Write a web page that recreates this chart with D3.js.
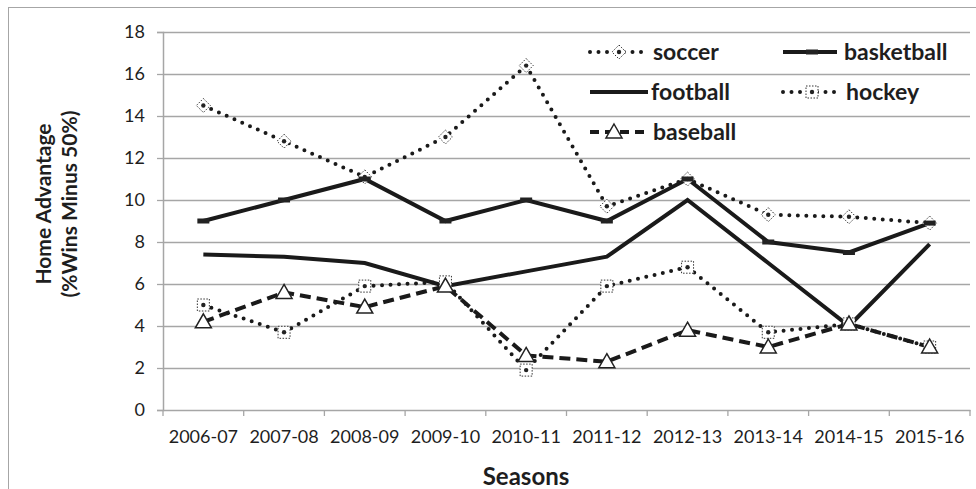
<!DOCTYPE html>
<html>
<head>
<meta charset="utf-8">
<script src="https://cdn.jsdelivr.net/npm/d3@7"></script>
<style>
  body { margin: 0; background: #fff; }
  text { font-family: Lato, "Open Sans", sans-serif; fill: #1e1e1e; }
  .tick text { font-size: 18px; }
  .axisTitle { font-size: 21px; font-weight: bold; }
  .legendText { font-size: 23px; font-weight: bold; }
</style>
</head>
<body>
<div class="chart"></div>
<script>
var seasons = ["2006-07", "2007-08", "2008-09", "2009-10", "2010-11", "2011-12", "2012-13", "2013-14", "2014-15", "2015-16"];
var yTicks = [0, 2, 4, 6, 8, 10, 12, 14, 16, 18];

var soccer     = [14.5, 12.8, 11.1, 13.0, 16.4, 9.7, 11.0, 9.3, 9.2, 8.9];
var basketball = [9.0, 10.0, 11.0, 9.0, 10.0, 9.0, 11.0, 8.0, 7.5, 8.9];
var football   = [7.4, 7.3, 7.0, 5.9, 6.6, 7.3, 10.0, 7.0, 4.0, 7.9];
var hockey     = [5.0, 3.7, 5.9, 6.1, 1.9, 5.9, 6.8, 3.7, 4.1, 3.0];
var baseball   = [4.2, 5.6, 4.9, 5.9, 2.6, 2.3, 3.8, 3.0, 4.1, 3.0];

var svgWidth = 976;
var svgHeight = 489;

var margin = { top: 32, right: 6, bottom: 79, left: 163 };
var width = svgWidth - margin.left - margin.right;
var height = svgHeight - margin.top - margin.bottom;

var svg = d3.select(".chart")
  .append("svg")
  .attr("width", svgWidth)
  .attr("height", svgHeight);

// outer frame (right and bottom edges fall outside the picture)
svg.append("rect")
  .attr("x", 8.5).attr("y", 7.5)
  .attr("width", 980).attr("height", 500)
  .attr("fill", "none")
  .attr("stroke", "#a6a6a6");

var chartGroup = svg.append("g")
  .attr("transform", `translate(${margin.left}, ${margin.top})`);

var xScale = d3.scaleBand().domain(seasons).range([0, width]);
var yScale = d3.scaleLinear().domain([0, 18]).range([height, 0]);

// gridlines
chartGroup.selectAll(".grid")
  .data(yTicks.filter(d => d > 0))
  .enter()
  .append("line")
  .attr("x1", 0).attr("x2", width)
  .attr("y1", d => yScale(d) + 0.5).attr("y2", d => yScale(d) + 0.5)
  .attr("stroke", "#a6a6a6")
  .attr("stroke-width", 1.3);

var leftAxis = d3.axisLeft(yScale).tickValues(yTicks).tickSize(6).tickPadding(12);
var yAxis = chartGroup.append("g").call(leftAxis);
yAxis.select(".domain").attr("stroke", "#a6a6a6").attr("stroke-width", 1.5);
yAxis.selectAll(".tick line").attr("stroke", "#a6a6a6").attr("stroke-width", 1.3);
yAxis.selectAll(".tick text").attr("font-family", null).attr("font-size", null);

var bottomAxis = d3.axisBottom(xScale).tickSize(0).tickPadding(20);
var xAxis = chartGroup.append("g")
  .attr("transform", `translate(0, ${height})`)
  .call(bottomAxis);
xAxis.select(".domain").attr("stroke", "#a6a6a6").attr("stroke-width", 1.5);
xAxis.selectAll(".tick text").attr("font-family", null).attr("font-size", null);
yAxis.attr("font-family", null).attr("font-size", null);
xAxis.attr("font-family", null).attr("font-size", null);

// category boundary ticks
chartGroup.selectAll(".xtick")
  .data(seasons.concat(["end"]))
  .enter()
  .append("line")
  .attr("x1", (d, i) => i * xScale.bandwidth())
  .attr("x2", (d, i) => i * xScale.bandwidth())
  .attr("y1", height).attr("y2", height + 6)
  .attr("stroke", "#a6a6a6")
  .attr("stroke-width", 1.3);

var cx = (d, i) => xScale(seasons[i]) + xScale.bandwidth() / 2;
var line = d3.line().x(cx).y(d => yScale(d));

var series = [
  { name: "soccer", values: soccer, dash: "0 8.5", cap: "round", marker: "diamond" },
  { name: "basketball", values: basketball, dash: null, cap: "butt", marker: "dash" },
  { name: "football", values: football, dash: null, cap: "butt", marker: "none" },
  { name: "hockey", values: hockey, dash: "0 8.5", cap: "round", marker: "square" },
  { name: "baseball", values: baseball, dash: "11 6", cap: "butt", marker: "triangle" }
];

function drawMarker(g, type, x, y) {
  if (type === "diamond") {
    g.append("path")
      .attr("d", `M${x},${y - 7}L${x + 7},${y}L${x},${y + 7}L${x - 7},${y}Z`)
      .attr("fill", "#fff").attr("stroke", "#333")
      .attr("stroke-width", 1).attr("stroke-dasharray", "1.5 1.5");
    g.append("circle").attr("cx", x).attr("cy", y).attr("r", 2.2).attr("fill", "#222");
  } else if (type === "square") {
    g.append("rect")
      .attr("x", x - 6).attr("y", y - 6).attr("width", 12).attr("height", 12)
      .attr("fill", "#fff").attr("stroke", "#333")
      .attr("stroke-width", 1).attr("stroke-dasharray", "1.5 1.5");
    g.append("circle").attr("cx", x).attr("cy", y).attr("r", 2.2).attr("fill", "#222");
  } else if (type === "triangle") {
    g.append("path")
      .attr("d", `M${x},${y - 8}L${x + 8},${y + 6}L${x - 8},${y + 6}Z`)
      .attr("fill", "#fff").attr("stroke", "#222").attr("stroke-width", 1.5);
  } else if (type === "dash") {
    g.append("rect")
      .attr("x", x - 6).attr("y", y - 2.5).attr("width", 12).attr("height", 5)
      .attr("fill", "#222");
  }
}

series.forEach(function (s) {
  chartGroup.append("path")
    .datum(s.values)
    .attr("d", line)
    .attr("fill", "none")
    .attr("stroke", "#1a1a1a")
    .attr("stroke-width", 4)
    .attr("stroke-linecap", s.cap)
    .attr("stroke-linejoin", "miter")
    .attr("stroke-dasharray", s.dash);
});

series.forEach(function (s) {
  var g = chartGroup.append("g");
  s.values.forEach(function (v, i) {
    drawMarker(g, s.marker, cx(v, i), yScale(v));
  });
});

// legend
var legendPos = {
  soccer: [590, 52], basketball: [783, 52],
  football: [590, 92], hockey: [783, 92],
  baseball: [590, 132]
};
series.forEach(function (s) {
  var p = legendPos[s.name];
  var lg = svg.append("g");
  lg.append("line")
    .attr("x1", p[0]).attr("x2", p[0] + (s.name === "football" ? 58 : 54))
    .attr("y1", p[1]).attr("y2", p[1])
    .attr("stroke", "#1a1a1a")
    .attr("stroke-width", 4)
    .attr("stroke-linecap", s.cap)
    .attr("stroke-dasharray", s.dash === "11 6" ? "9 6" : s.dash);
  drawMarker(lg, s.marker, p[0] + (s.marker === "triangle" ? 24 : 29), p[1]);
  lg.append("text")
    .attr("class", "legendText")
    .attr("x", p[0] + (s.name === "football" || s.name === "basketball" ? 61 : 63))
    .attr("y", p[1])
    .attr("dy", "0.36em")
    .text(s.name);
});

// axis titles
svg.append("text")
  .attr("class", "axisTitle")
  .attr("transform", "translate(51, 204) rotate(-90)")
  .attr("text-anchor", "middle")
  .text("Home Advantage");
svg.append("text")
  .attr("class", "axisTitle")
  .attr("transform", "translate(77, 204) rotate(-90)")
  .attr("text-anchor", "middle")
  .text("(%Wins Minus 50%)");

svg.append("text")
  .attr("class", "axisTitle")
  .attr("x", 526)
  .attr("y", 485)
  .attr("font-size", 24)
  .style("font-size", "24px")
  .attr("text-anchor", "middle")
  .text("Seasons");
</script>
</body>
</html>
